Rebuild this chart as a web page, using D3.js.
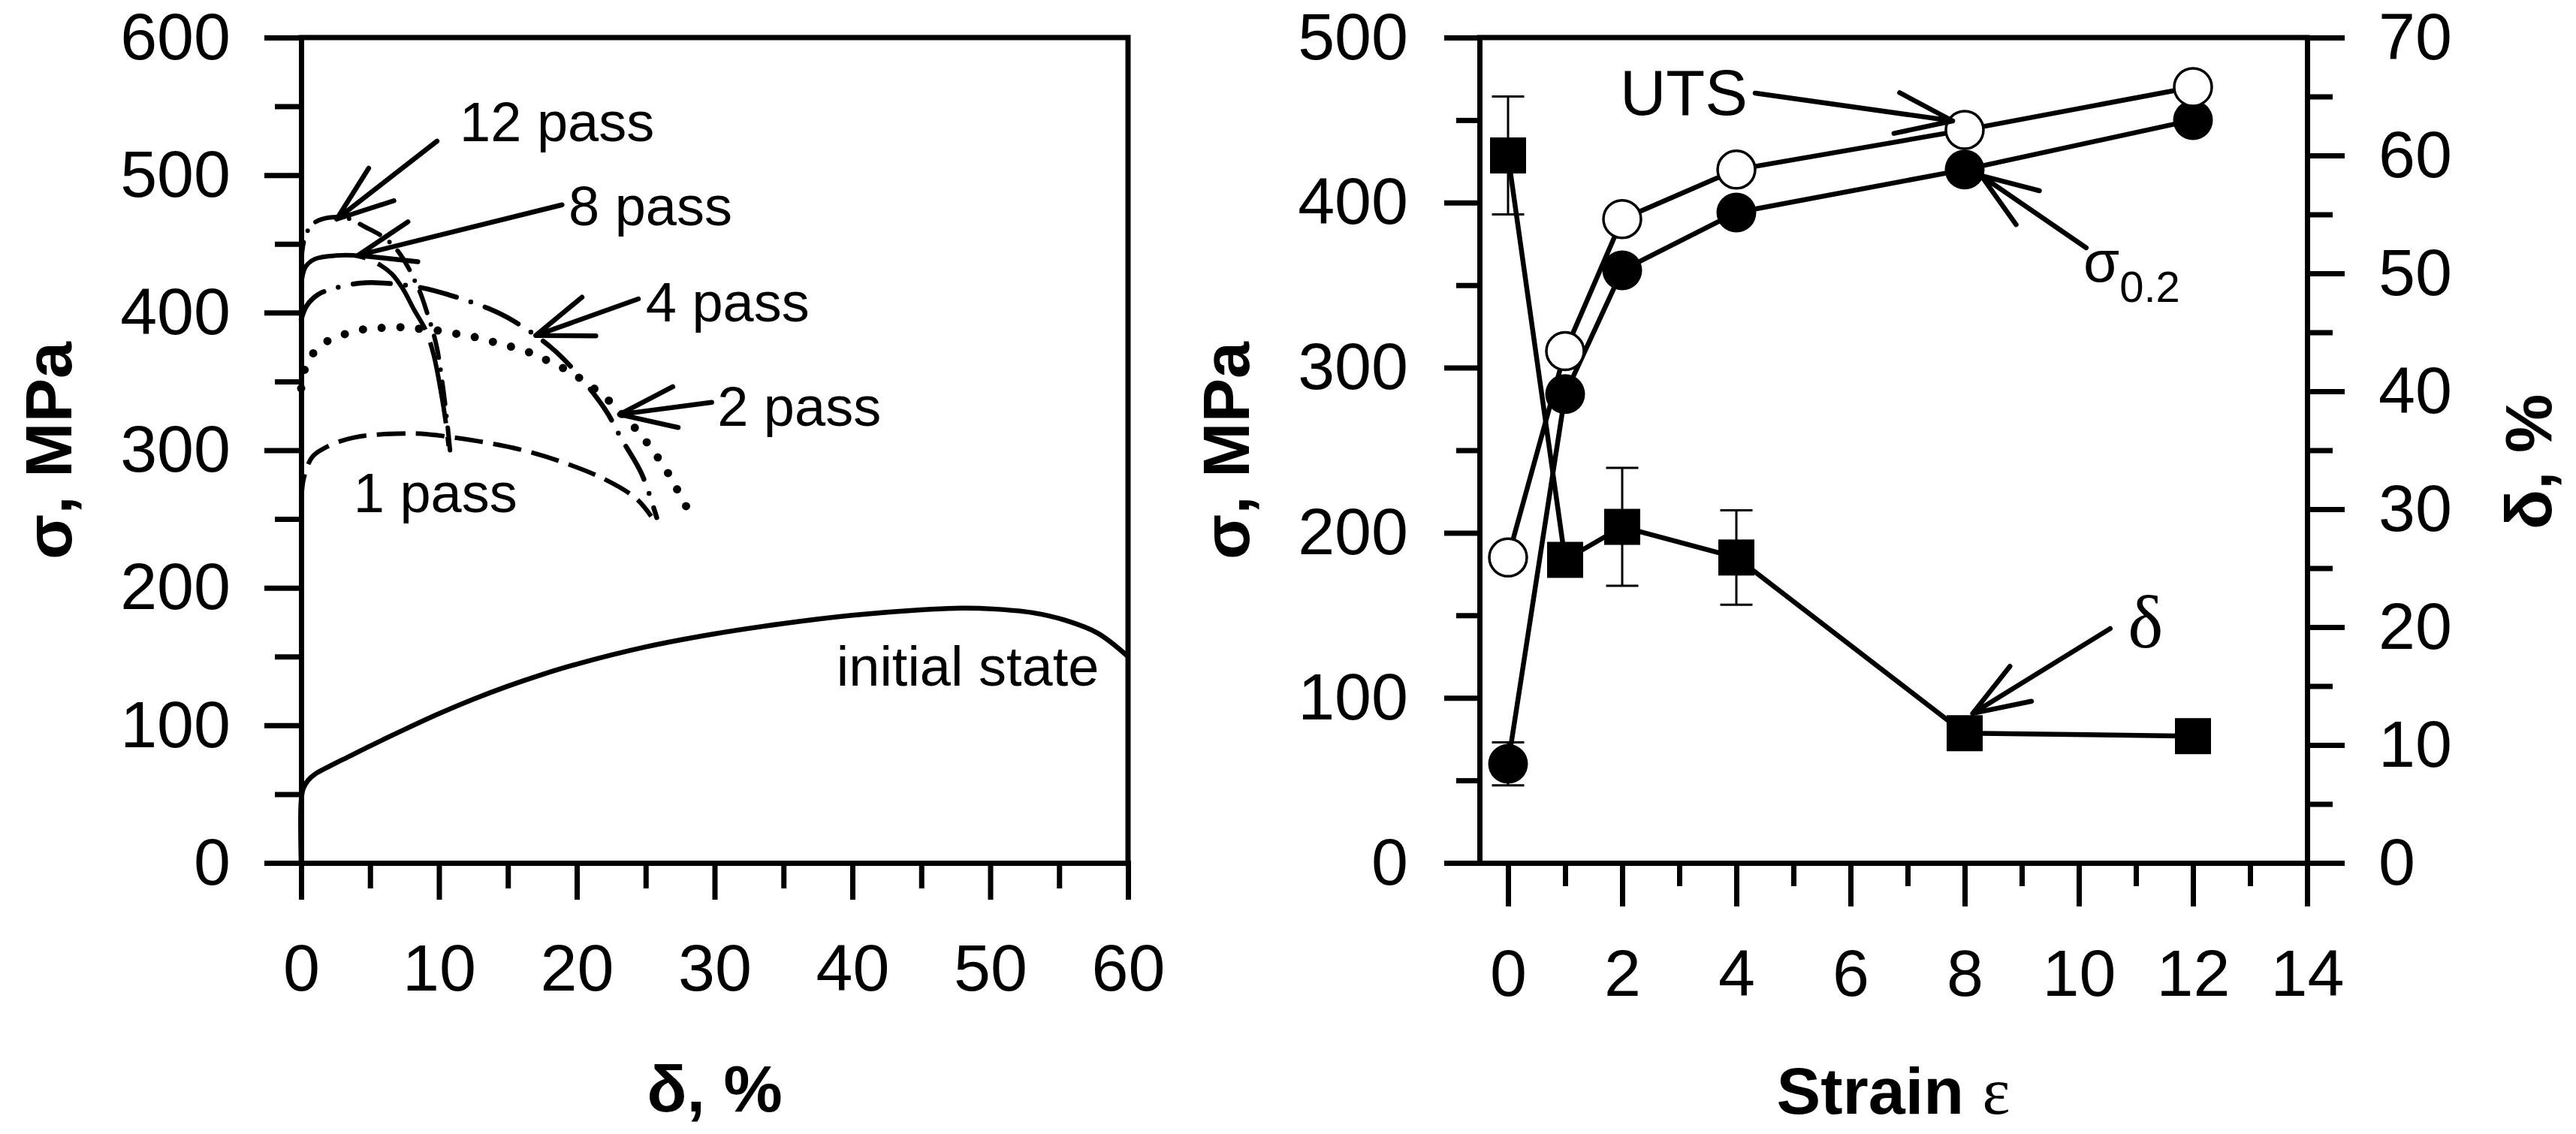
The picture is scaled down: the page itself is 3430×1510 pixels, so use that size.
<!DOCTYPE html>
<html>
<head>
<meta charset="utf-8">
<script src="https://cdn.jsdelivr.net/npm/d3@7"></script>
<style>
  body { margin: 0; background: #fff; }
  svg { display: block; }
</style>
</head>
<body>
<div id="chart"></div>
<script>
// ---- left panel: stress (MPa) vs elongation (%) curves ----
const initialState = [[0,0],[0,45],[0.15,54],[0.5,60],[1,64.5],[2,70],[3.5,77.5],[5,85],[7.5,97],[10,108.5],[12.5,119],[15,128.5],[17.5,137],[20,144.5],[25,157],[30,166.5],[35,174],[40,180],[45,184],[48,185.2],[50.2,184.6],[53,182],[55.4,176.5],[57.8,167],[60,150]];
const pass1 = [[0,262],[0.2,280],[0.8,295],[1.6,301],[3,307],[4.7,310.6],[6.9,312],[8.7,312],[10.9,309.5],[12.9,306.5],[15.9,300.5],[18.9,291.5],[21.9,279.5],[24.3,265],[25.4,252]];
const pass2 = [[0,345],[0.3,360],[1,372],[2.2,381],[3.6,385.5],[4.9,388.5],[6.2,389],[7.6,389.4],[8.8,388],[10.2,386.7],[11.6,384],[12.9,381.6],[14.2,378],[15.5,374.5],[16.9,369.8],[18.1,364],[19.5,357],[22,339],[23.3,326],[24.5,313],[25.5,300],[26.4,287],[27.2,273],[28,258]];
const pass4 = [[0,395],[0.4,405],[1.2,413],[2.5,418],[4.3,421.5],[6,421.5],[8.8,418],[10.7,413],[13.6,403],[15.4,394],[18.1,375],[20,356],[22.1,329],[23.2,309],[24.7,283],[25.8,251]];
const pass8 = [[0,420],[0.3,433],[1,439],[2.5,441.5],[4.2,441],[5.5,436],[6.6,428],[7.4,417],[8.2,402],[9.05,387],[9.6,370],[10.1,345],[10.5,320],[10.7,303]];
const pass12 = [[0,435],[0.2,452],[0.7,463],[1.5,468],[3.2,469],[4.7,462],[6.1,454],[7,445],[7.76,433],[8.3,422],[8.7,413],[9.2,398],[9.6,385],[9.9,372],[10.3,345],[10.6,320],[10.8,300]];

const leftXTicks = [0, 10, 20, 30, 40, 50, 60];
const leftXMinor = [5, 15, 25, 35, 45, 55];
const leftYTicks = [0, 100, 200, 300, 400, 500, 600];
const leftYMinor = [50, 150, 250, 350, 450, 550];

// ---- right panel: properties vs strain ----
const strain = [0, 1, 2, 4, 8, 12];
const uts = [185, 310, 390, 420, 444, 470];
const ys = [60, 284, 359, 394, 420, 450];
const ysErr = [13, 0, 0, 0, 0, 0];
const elong = [60, 25.7, 28.5, 25.9, 11.0, 10.75];
const elongErr = [5, 0, 5, 4, 0, 0];

const rightXTicks = [0, 2, 4, 6, 8, 10, 12, 14];
const rightXMinor = [1, 3, 5, 7, 9, 11, 13];
const rightYTicks = [0, 100, 200, 300, 400, 500];
const rightYMinor = [50, 150, 250, 350, 450];
const right2Ticks = [0, 10, 20, 30, 40, 50, 60, 70];
const right2Minor = [5, 15, 25, 35, 45, 55, 65];

const sans = "'Liberation Sans', Arial, Helvetica, sans-serif";
const serif = "'Liberation Serif', 'Times New Roman', serif";

const svg = d3.select("#chart").append("svg")
  .attr("width", 3430).attr("height", 1510)
  .style("font-family", sans);

const xL = d3.scaleLinear().domain([0, 60]).range([401, 1502]);
const yL = d3.scaleLinear().domain([0, 600]).range([1149, 50]);
const xR = d3.scaleLinear().domain([-0.5, 14]).range([1970, 3072]);
const yR = d3.scaleLinear().domain([0, 500]).range([1149, 50]);
const yR2 = d3.scaleLinear().domain([0, 70]).range([1149, 50]);

const axisW = 7;

function drawAxis(axisFn, scale, transform, major, minor, majorLen, minorLen, pad) {
  const gm = svg.append("g").attr("transform", transform)
    .call(axisFn(scale).tickValues(minor).tickSize(minorLen).tickSizeOuter(0).tickFormat(""));
  gm.select(".domain").remove();
  gm.selectAll(".tick line").attr("stroke-width", axisW);

  const g = svg.append("g").attr("transform", transform)
    .call(axisFn(scale).tickValues(major).tickSize(majorLen).tickSizeOuter(0).tickPadding(pad));
  g.attr("font-size", 88).attr("font-family", sans);
  g.select(".domain").attr("stroke-width", axisW).attr("stroke-linecap", "square");
  g.selectAll(".tick line").attr("stroke-width", axisW);
  g.selectAll(".tick text").attr("fill", "#000");
  return g;
}

// left panel axes + frame
drawAxis(d3.axisLeft, yL, "translate(401,0)", leftYTicks, leftYMinor, 49, 35, 45);
drawAxis(d3.axisBottom, xL, "translate(0,1149)", leftXTicks, leftXMinor, 49, 34, 59);
svg.append("path")
  .attr("d", `M${xL(0)},${yL(600)}H${xL(60)}V${yL(0)}`)
  .attr("fill", "none").attr("stroke", "#000").attr("stroke-width", axisW)
  .attr("stroke-linecap", "square");

// right panel axes + frame
drawAxis(d3.axisLeft, yR, "translate(1970,0)", rightYTicks, rightYMinor, 47, 31, 48);
drawAxis(d3.axisBottom, xR, "translate(0,1149)", rightXTicks, rightXMinor, 58, 31, 57);
drawAxis(d3.axisRight, yR2, "translate(3072,0)", right2Ticks, right2Minor, 50, 34, 45);
svg.append("line")
  .attr("x1", xR(-0.5)).attr("x2", xR(14)).attr("y1", yR(500)).attr("y2", yR(500))
  .attr("stroke", "#000").attr("stroke-width", axisW).attr("stroke-linecap", "square");

// stress-strain curves
const lineL = d3.line()
  .x(d => xL(d[0]))
  .y(d => yL(d[1]))
  .curve(d3.curveCatmullRom.alpha(0.5));

const curves = [
  { data: initialState, dash: null, width: 6.5, cap: "butt" },
  { data: pass1, dash: "38 14", width: 6, cap: "butt" },
  { data: pass2, dash: "0 25", width: 11, cap: "round" },
  { data: pass4, dash: "50 20 0 20", width: 6.5, cap: "round" },
  { data: pass8, dash: "110 18", width: 6, cap: "butt" },
  { data: pass12, dash: "30 16 0 16", width: 6, cap: "round" }
];

svg.append("g")
  .selectAll("path")
  .data(curves)
  .join("path")
  .attr("d", d => lineL(d.data))
  .attr("fill", "none")
  .attr("stroke", "#000")
  .attr("stroke-width", d => d.width)
  .attr("stroke-linecap", d => d.cap)
  .attr("stroke-dasharray", d => d.dash);

// open arrow: shaft from tail to head plus two barbs
function arrow(tail, head) {
  const [tx, ty] = tail, [hx, hy] = head;
  const ang = Math.atan2(ty - hy, tx - hx);
  const L = 80, a = 20 * Math.PI / 180;
  const p = d3.path();
  p.moveTo(tx, ty);
  p.lineTo(hx, hy);
  p.moveTo(hx + L * Math.cos(ang - a), hy + L * Math.sin(ang - a));
  p.lineTo(hx, hy);
  p.lineTo(hx + L * Math.cos(ang + a), hy + L * Math.sin(ang + a));
  svg.append("path")
    .attr("d", p.toString())
    .attr("fill", "none")
    .attr("stroke", "#000")
    .attr("stroke-width", 6.5)
    .attr("stroke-linecap", "round")
    .attr("stroke-linejoin", "round");
}

// left annotations
const leftNotes = [
  { text: "12 pass", at: [11.5, 524.6], tail: [9.86, 524.7], head: [2.58, 468] },
  { text: "8 pass", at: [19.4, 463.5], tail: [18.93, 478.4], head: [4.13, 441.7] },
  { text: "4 pass", at: [25.0, 393.6], tail: [24.47, 410], head: [17.02, 383.4] },
  { text: "2 pass", at: [30.2, 317.7], tail: [29.79, 334.8], head: [23.1, 326] },
  { text: "1 pass", at: [3.8, 255] }
];
leftNotes.forEach(n => {
  if (n.tail) arrow([xL(n.tail[0]), yL(n.tail[1])], [xL(n.head[0]), yL(n.head[1])]);
  svg.append("text")
    .attr("x", xL(n.at[0])).attr("y", yL(n.at[1]))
    .attr("font-size", 74)
    .text(n.text);
});
svg.append("text")
  .attr("x", xL(57.9)).attr("y", yL(128.8))
  .attr("font-size", 74)
  .attr("text-anchor", "end")
  .text("initial state");

// right panel data
const rows = strain.map((s, i) => ({
  s, uts: uts[i], ys: ys[i], ysErr: ysErr[i], el: elong[i], elErr: elongErr[i]
}));

const lineUts = d3.line().x(d => xR(d.s)).y(d => yR(d.uts));
const lineYs = d3.line().x(d => xR(d.s)).y(d => yR(d.ys));
const lineEl = d3.line().x(d => xR(d.s)).y(d => yR2(d.el));

[lineEl, lineUts, lineYs].forEach(l => {
  svg.append("path")
    .attr("d", l(rows))
    .attr("fill", "none")
    .attr("stroke", "#000")
    .attr("stroke-width", 6.5)
    .attr("stroke-linejoin", "round");
});

// error bars
function errBars(data, yScale, val, err) {
  const g = svg.append("g").attr("stroke", "#000").attr("stroke-width", 3);
  data.filter(d => d[err] > 0).forEach(d => {
    const x = xR(d.s), y1 = yScale(d[val] - d[err]), y2 = yScale(d[val] + d[err]);
    g.append("line").attr("x1", x).attr("x2", x).attr("y1", y1).attr("y2", y2);
    g.append("line").attr("x1", x - 21.5).attr("x2", x + 21.5).attr("y1", y1).attr("y2", y1);
    g.append("line").attr("x1", x - 21.5).attr("x2", x + 21.5).attr("y1", y2).attr("y2", y2);
  });
}
errBars(rows, yR2, "el", "elErr");
errBars(rows, yR, "ys", "ysErr");

// markers
const sq = 48;
svg.append("g").selectAll("rect").data(rows).join("rect")
  .attr("x", d => xR(d.s) - sq / 2)
  .attr("y", d => yR2(d.el) - sq / 2)
  .attr("width", sq).attr("height", sq)
  .attr("fill", "#000");

svg.append("g").selectAll("circle").data(rows).join("circle")
  .attr("cx", d => xR(d.s)).attr("cy", d => yR(d.ys))
  .attr("r", 26.5).attr("fill", "#000");

svg.append("g").selectAll("circle").data(rows).join("circle")
  .attr("cx", d => xR(d.s)).attr("cy", d => yR(d.uts))
  .attr("r", 25).attr("fill", "#fff")
  .attr("stroke", "#000").attr("stroke-width", 3.5);

// right annotations
arrow([xR(4.33), yR(466.3)], [xR(7.79), yR(449.5)]);
arrow([xR(10.13), yR(372.6)], [xR(8.29), yR(416.3)]);
arrow([xR(10.55), yR2(19.87)], [xR(8.14), yR2(12.68)]);

svg.append("text")
  .attr("x", xR(1.96)).attr("y", yR(453))
  .attr("font-size", 85)
  .text("UTS");

const sig = svg.append("text")
  .attr("x", xR(10.08)).attr("y", yR(352))
  .attr("font-size", 78);
sig.append("tspan").text("σ");
sig.append("tspan").attr("font-size", 58).attr("dy", 27).text("0.2");

svg.append("text")
  .attr("x", xR(10.86)).attr("y", yR2(18.28))
  .attr("font-size", 100)
  .attr("font-family", serif)
  .text("δ");

// axis titles
function yTitle(x, y, label) {
  svg.append("text")
    .attr("transform", `translate(${x},${y}) rotate(-90)`)
    .attr("text-anchor", "middle")
    .attr("font-size", 88)
    .attr("font-weight", "bold")
    .text(label);
}
yTitle(95, 600, "σ, MPa");
yTitle(1663, 600, "σ, MPa");
yTitle(3397, 615, "δ, %");

svg.append("text")
  .attr("x", (xL(0) + xL(60)) / 2).attr("y", 1480)
  .attr("text-anchor", "middle")
  .attr("font-size", 88)
  .attr("font-weight", "bold")
  .text("δ, %");

const st = svg.append("text")
  .attr("x", (xR(-0.5) + xR(14)) / 2).attr("y", 1483)
  .attr("text-anchor", "middle")
  .attr("font-size", 88)
  .attr("font-weight", "bold");
st.append("tspan").text("Strain ");
st.append("tspan").attr("font-family", serif).attr("font-weight", "normal").text("ε");
</script>
</body>
</html>
